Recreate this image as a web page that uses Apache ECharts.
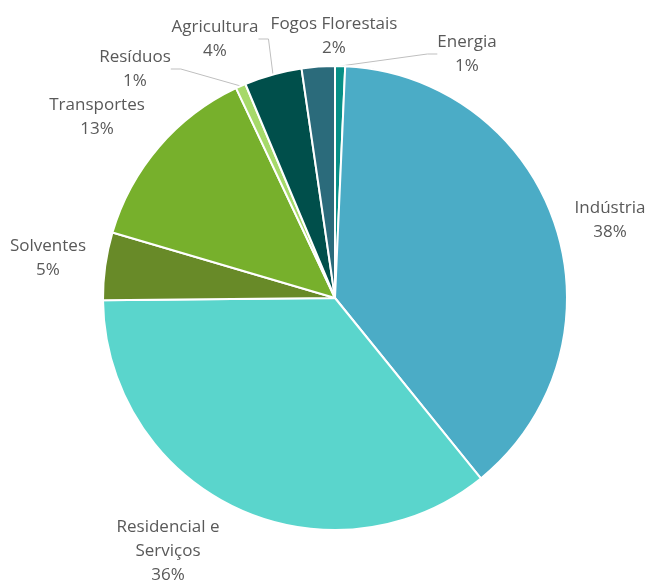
<!DOCTYPE html>
<html>
<head>
<meta charset="utf-8">
<script src="https://cdn.jsdelivr.net/npm/echarts@6/dist/echarts.min.js"></script>
<style>html,body{margin:0;padding:0;background:#fff;}#c{width:647px;height:583px;}</style>
</head>
<body>
<div id="c"></div>
<script>
var categories = ['Energia', 'Indústria', 'Residencial e Serviços', 'Solventes', 'Transportes', 'Resíduos', 'Agricultura', 'Fogos Florestais'];
var values = [0.7, 38.4, 35.6, 4.7, 13.4, 0.7, 4.0, 2.3];
var labelTexts = ['Energia', 'Indústria', 'Residencial e\nServiços', 'Solventes', 'Transportes', 'Resíduos', 'Agricultura', 'Fogos Florestais'];
var colors = ['#078F86', '#4BACC6', '#5AD5CC', '#688A28', '#77B02C', '#A6D96A', '#004F4B', '#2B6B7B'];
var labelPos = [[467, 54], [610, 220], [168, 551], [48, 258], [97, 117], [135, 69], [215, 39], [334, 36]];
var showLine = [true, false, false, false, false, true, true, false];

var total = values.reduce(function (a, b) { return a + b; }, 0);
var data = categories.map(function (c, i) {
  return {
    name: c, value: values[i],
    itemStyle: { color: colors[i] },
    labelLine: { show: showLine[i] }
  };
});

var chart = echarts.init(document.getElementById('c'));
chart.setOption({
  animation: false,
  series: [{
    type: 'pie',
    center: [335, 298],
    radius: 232,
    startAngle: 90,
    clockwise: true,
    avoidLabelOverlap: false,
    data: data,
    itemStyle: { borderColor: '#fff', borderWidth: 2 },
    label: {
      show: true,
      position: 'outside',
      color: '#595959',
      fontFamily: 'Open Sans',
      fontSize: 17,
      lineHeight: 24,
      align: 'center',
      formatter: function (p) {
        return labelTexts[p.dataIndex] + '\n' + Math.round(p.value / total * 100) + '%';
      }
    },
    labelLine: {
      show: true,
      length: 10,
      length2: 10,
      lineStyle: { color: '#BFBFBF', width: 1 }
    },
    labelLayout: function (p) {
      var pos = labelPos[p.dataIndex];
      return { x: pos[0], y: pos[1], align: 'center', verticalAlign: 'middle' };
    }
  }]
});
</script>
</body>
</html>
